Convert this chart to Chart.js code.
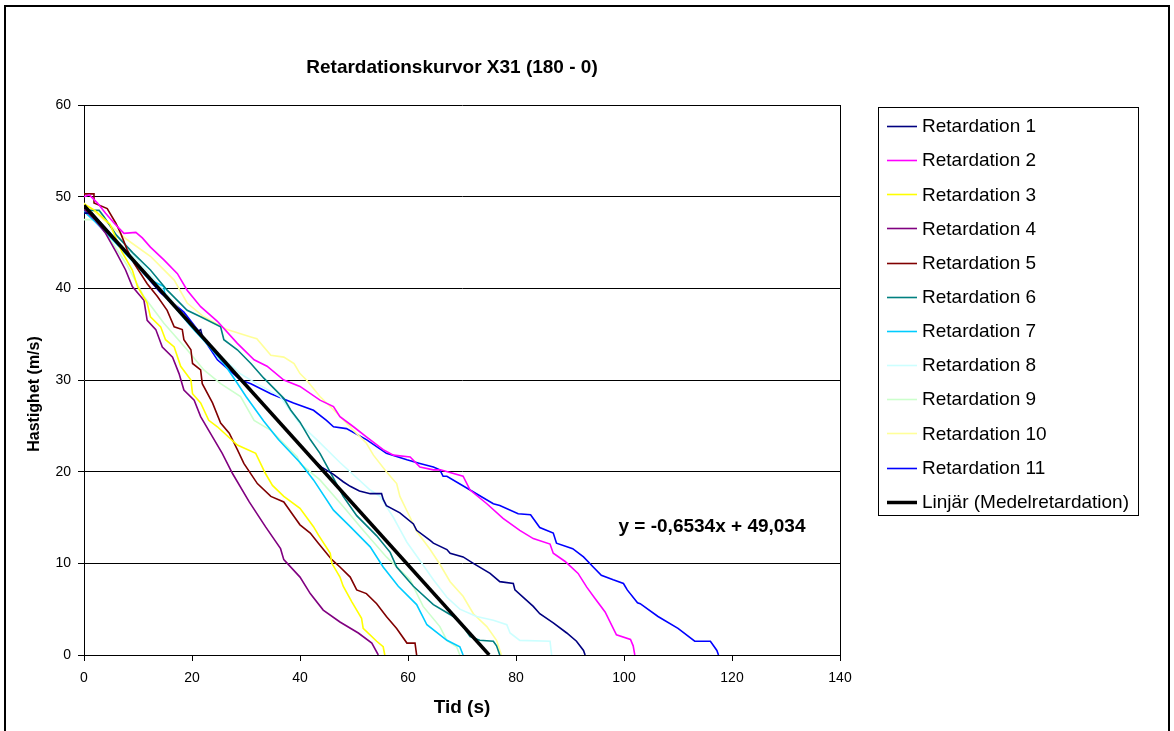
<!DOCTYPE html>
<html>
<head>
<meta charset="utf-8">
<script src="https://cdn.jsdelivr.net/npm/chart.js@4.4.0/dist/chart.umd.min.js"></script>
<style>
html,body{margin:0;padding:0;background:#fff;}
#wrap{width:1174px;height:731px;position:relative;}
</style>
</head>
<body>
<div id="wrap"><canvas id="c" width="1174" height="731"></canvas></div>
<script>
// ---------- DATA ----------
const chartTitle = "Retardationskurvor X31 (180 - 0)";
const xTitle = "Tid (s)";
const yTitle = "Hastighet (m/s)";
const equationText = "y = -0,6534x + 49,034";
const seriesNames = ["Retardation 1","Retardation 2","Retardation 3","Retardation 4","Retardation 5","Retardation 6","Retardation 7","Retardation 8","Retardation 9","Retardation 10","Retardation 11"];
const trendName = "Linjär (Medelretardation)";
const xTickValues = [0,20,40,60,80,100,120,140];
const yTickValues = [0,10,20,30,40,50,60];

const r1x = [0,1.5,3,5,7,9,11,13,15,17,19,21,21.6,22,24,26,28,30,32,34,36,38,40,41.9,44,46.2,48,49.3,51,53,55.1,55.4,56,58.5,61,61.6,64.1,64.7,67.2,67.8,70.2,72.1,75.2,77,79.5,79.8,83.2,84.4,86.9,89.4,91.2,92.5,92.8];
const r1y = [48.2,48.2,47.2,45.9,44.5,43.2,41.9,40.5,39.2,37.9,36.6,35.3,35.5,34.6,33.3,32.0,30.6,29.4,28.1,26.8,25.5,24.2,22.9,21.6,20.5,19.7,18.9,18.4,17.9,17.6,17.6,17.0,16.3,15.5,14.3,13.6,12.5,12.2,11.5,11.1,10.7,10.0,8.9,8.0,7.8,7.1,5.3,4.5,3.5,2.4,1.5,0.5,0];

const r2x = [0,1,2.5,4,5.6,7.4,9.6,10.8,12.3,14.8,17.3,19.1,21.6,24.7,28.4,31.5,33.9,37,40,43.7,46.2,47.4,49.9,52.3,55.4,57.3,60.4,62.2,64.7,66,70.2,71.5,74.6,77.6,80.7,83.2,86.3,86.9,89.1,91.5,93.1,94.6,96.5,98.6,101.2,101.7,102];
const r2y = [50,50.2,49.3,48.2,47.1,46.0,46.1,45.5,44.5,43.1,41.6,39.8,38.0,36.4,34.0,32.2,31.5,30.0,29.3,27.8,27.1,26.0,24.9,23.8,22.4,21.8,21.6,20.5,20.2,20.2,19.5,18.0,16.5,14.9,13.6,12.7,12.1,11.1,10.2,8.9,7.4,6.2,4.7,2.2,1.7,1.0,0];

const r3x = [0,2,4.8,7,8.95,9.9,11.7,12.3,14.2,15.1,16.7,17.9,19.8,20.1,21.6,23.1,24.7,28.4,31.8,33.6,34.9,37,40,42.5,43.4,45.6,45.9,47.4,48,49.6,51.4,51.7,54.2,55.4,55.7];
const r3y = [49.2,48.5,47.0,44.0,42.0,40.2,38.4,36.9,35.8,34.4,33.6,31.5,30.0,28.5,27.5,25.6,24.9,22.9,22.0,19.8,18.5,17.3,16.0,14.0,13.1,11.1,10.0,8.5,7.5,5.8,4.0,2.9,1.5,0.9,0];

const r4x = [0,2,4,5.9,7.7,8.95,11.1,11.7,13.3,14.5,16.4,17.6,18.5,20.4,21.6,23.8,25.6,27.5,30.6,33.6,36.4,37.0,40.0,41.9,44.3,47.4,50.8,53.3,54.5];
const r4y = [48.6,47.5,46.0,44.0,42.0,40.2,38.7,36.5,35.5,33.6,32.5,30.7,28.9,27.8,26.0,23.8,22.0,19.8,16.7,14.0,11.6,10.4,8.5,6.7,4.9,3.6,2.4,1.3,0];

const r5x = [0,1.85,1.85,4.3,5.9,6.8,8.0,9.3,11.7,13.6,15.4,16.7,18.2,18.5,19.8,20.1,21.6,21.9,23.8,25.3,26.9,28.4,29.6,32.1,34.6,37.0,38.9,40,41.9,43.4,45.9,47.4,49.3,50.5,52.3,54.2,56.0,57.9,59.8,61.3,61.6];
const r5y = [50.3,50.3,49.3,48.7,47.1,46.0,44.2,42.7,40.5,39.1,37.6,35.8,35.5,34.4,33.3,31.8,31.1,29.6,27.5,25.3,24.2,22.4,20.9,18.7,17.3,16.7,15.1,14.2,13.3,12.2,10.4,9.6,8.5,7.1,6.7,5.6,4.2,2.9,1.3,1.3,0];

const r6x = [0,1.2,2.8,3.7,6,9,12.3,15.4,19.1,21.6,25.3,25.9,28.4,30.9,33.3,37.0,38.3,40,41.9,43.7,46.2,48,50.5,54.2,56.7,57.9,61,64.7,68.4,70.2,71.5,73.3,75.8,76.4,77];
const r6y = [48.5,48.5,48.5,47.8,45.8,43.9,42.0,39.8,37.6,36.9,35.8,34.4,33.3,31.8,30.2,28.0,26.7,25.4,23.5,22.0,19.3,17.3,15.2,13.0,11.2,9.6,7.5,5.5,4.2,3.1,2.0,1.6,1.5,1.0,0];

const r7x = [0,2,5,8,10,12,14.8,15,17,20,23,25.9,28,30,33.3,36,40,42.5,46.2,49.3,53.0,55.4,58.2,61.6,63.5,67.2,69.6,70.2];
const r7y = [48.4,47.3,45.5,43.6,42.3,41.0,40.2,39.1,37.8,35.7,33.8,31.8,30.0,28.2,25.5,23.5,21.0,19.1,15.8,14.0,11.8,9.6,7.5,5.5,3.3,1.6,0.9,0];

const r8x = [0,2,5,7,9.9,12,15.4,18,21.5,25,28.9,32,36.3,40,43.1,47.4,50.2,53,54.8,56,57.3,58.5,59.8,62.2,64.7,67.2,69.6,72.7,75.8,78.3,78.9,80.7,86.3,86.6];
const r8y = [48.8,47.8,46.0,44.7,43.1,41.7,39.3,37.4,35.1,32.8,30.7,29.6,28.2,25.2,23.5,21.0,19.5,18.0,17.3,16.2,15.0,13.7,12.3,10.3,8.2,6.3,5.0,4.2,3.8,3.3,2.4,1.6,1.5,0];

const r9x = [0,0.6,2.7,5,8,11.1,14.8,19.1,22.2,25.3,29.0,31.5,34.6,39.5,40,43.7,48,51.7,56,60.4,62.8,65.9,67.2,69.0,69.6];
const r9y = [47.5,47.5,47.5,45.2,42.5,39.1,36.2,33.3,31.1,29.6,28.2,25.6,24.5,21.6,20.9,19.1,16.2,13.6,10.7,8.2,5.3,3.1,1.6,0.9,0];

const r10x = [0,2,5,8,12.3,16.7,19.1,22.2,26.5,30.9,32,34.6,37,38.9,40,41.2,43.7,46.8,49.9,52.3,53.6,56,57.9,58.5,60.4,61.6,64.1,65.9,67.8,70.2,72.1,74.6,76.4,77.3];
const r10y = [49.3,48.3,46.8,45.3,43.5,40.9,38.4,36.9,35.5,34.7,34.5,32.7,32.5,31.8,30.7,30.0,28.2,26.4,24.5,23.1,21.8,20.0,18.7,17.3,15.0,13.5,11.5,9.9,8.0,6.4,4.5,3.1,1.6,0];

const r11x = [0,1,3,6,9,12,14.2,18.5,21,24.7,29,30.9,34.6,38.8,42.5,44.9,46.2,48.6,52.3,56,59.8,62.2,64.7,65.9,66.5,67.2,71.5,75.8,77,80.4,82.7,84.4,86.9,87.5,90.5,92.5,94.3,95.8,98,99.9,100.6,102.5,103,106.3,110,113.1,116,117.2,117.5];
const r11y = [48.2,48.2,46.9,45.0,43.0,41.0,39.5,37.4,35.5,32.2,30.0,29.6,28.5,27.5,26.7,25.6,24.9,24.7,23.5,22.0,21.3,20.9,20.5,20.2,19.5,19.5,18.0,16.5,16.3,15.4,15.3,13.9,13.3,12.2,11.6,10.7,9.6,8.7,8.2,7.8,7.1,5.7,5.6,4.2,2.9,1.5,1.5,0.5,0];

const trendX = [0,75.04];
const trendY = [49.034,0];

// ---------- STYLE ----------
const FONT = "'Liberation Sans', Arial, Helvetica, sans-serif";
const seriesColors = ["#000080","#FF00FF","#FFFF00","#800080","#800000","#008080","#00CCFF","#CCFFFF","#CCFFCC","#FFFF99","#0000FF"];
const allX = [r1x,r2x,r3x,r4x,r5x,r6x,r7x,r8x,r9x,r10x,r11x];
const allY = [r1y,r2y,r3y,r4y,r5y,r6y,r7y,r8y,r9y,r10y,r11y];
const toPts = (xs, ys) => xs.map((x, i) => ({x: x, y: ys[i]}));

const datasets = seriesNames.map((name, i) => ({
  label: name,
  data: toPts(allX[i], allY[i]),
  borderColor: seriesColors[i],
  backgroundColor: seriesColors[i],
  borderWidth: 1.6,
  pointRadius: 0,
  showLine: true,
  tension: 0,
  order: 1
}));
datasets.push({
  label: trendName,
  data: toPts(trendX, trendY),
  borderColor: "#000000",
  backgroundColor: "#000000",
  borderWidth: 3.5,
  pointRadius: 0,
  showLine: true,
  tension: 0,
  order: 0
});

const decorPlugin = {
  id: 'decor',
  beforeDatasetsDraw(chart) {
    const ctx = chart.ctx, a = chart.chartArea;
    ctx.save();
    ctx.strokeStyle = '#000';
    ctx.lineWidth = 1;
    ctx.beginPath();
    ctx.moveTo(Math.round(a.right) + 0.5, a.top);
    ctx.lineTo(Math.round(a.right) + 0.5, a.bottom);
    ctx.stroke();
    ctx.restore();
  },
  afterDraw(chart) {
    const ctx = chart.ctx;
    ctx.save();
    // outer frame
    ctx.strokeStyle = '#000';
    ctx.lineWidth = 2;
    ctx.strokeRect(5, 6, 1164, 740);
    // title
    ctx.fillStyle = '#000';
    ctx.font = "bold 19px " + FONT;
    ctx.textAlign = 'center';
    ctx.textBaseline = 'middle';
    ctx.fillText(chartTitle, 452, 68);
    // equation
    ctx.fillText(equationText, 712, 527);
    // y axis title
    ctx.save();
    ctx.translate(35, 394);
    ctx.rotate(-Math.PI / 2);
    ctx.font = "bold 16px " + FONT;
    ctx.fillText(yTitle, 0, 0);
    ctx.restore();
    // legend box
    ctx.lineWidth = 1;
    ctx.strokeRect(878.5, 107.5, 260, 408);
    ctx.font = "19px " + FONT;
    ctx.textAlign = 'left';
    const ds = chart.data.datasets;
    ds.forEach((d, i) => {
      const y = 126 + i * 34.15;
      ctx.strokeStyle = d.borderColor;
      ctx.lineWidth = d.borderWidth >= 3 ? 3.5 : 1.6;
      ctx.beginPath();
      ctx.moveTo(887, Math.round(y) + 0.5);
      ctx.lineTo(917, Math.round(y) + 0.5);
      ctx.stroke();
      ctx.fillStyle = '#000';
      ctx.fillText(d.label, 922, y + 1);
    });
    ctx.restore();
  }
};

new Chart(document.getElementById('c'), {
  type: 'scatter',
  data: { datasets: datasets },
  options: {
    responsive: false,
    animation: false,
    layout: { padding: { left: 0, right: 334, top: 105, bottom: 0 } },
    plugins: { legend: { display: false }, title: { display: false }, tooltip: { enabled: false } },
    scales: {
      x: {
        type: 'linear', min: 0, max: 140,
        afterFit: (s) => { s.height = 76; },
        afterBuildTicks: (s) => { s.ticks = xTickValues.map(v => ({value: v})); },
        ticks: { color: '#000', font: { family: FONT, size: 14 }, padding: 9, maxRotation: 0 },
        grid: { drawOnChartArea: false, drawTicks: true, tickLength: 6, color: '#000', tickColor: '#000' },
        border: { display: true, color: '#000', width: 1 },
        title: { display: true, text: xTitle, color: '#000', font: { family: FONT, size: 19, weight: 'bold' }, padding: { top: 0, bottom: 12 } }
      },
      y: {
        type: 'linear', min: 0, max: 60,
        afterFit: (s) => { s.width = 84; },
        afterBuildTicks: (s) => { s.ticks = yTickValues.map(v => ({value: v})); },
        ticks: { color: '#000', font: { family: FONT, size: 14 }, padding: 7 },
        grid: { drawOnChartArea: true, drawTicks: true, tickLength: 6, color: '#000', tickColor: '#000', lineWidth: 1 },
        border: { display: true, color: '#000', width: 1 },
        title: { display: false }
      }
    }
  },
  plugins: [decorPlugin]
});
</script>
</body>
</html>
